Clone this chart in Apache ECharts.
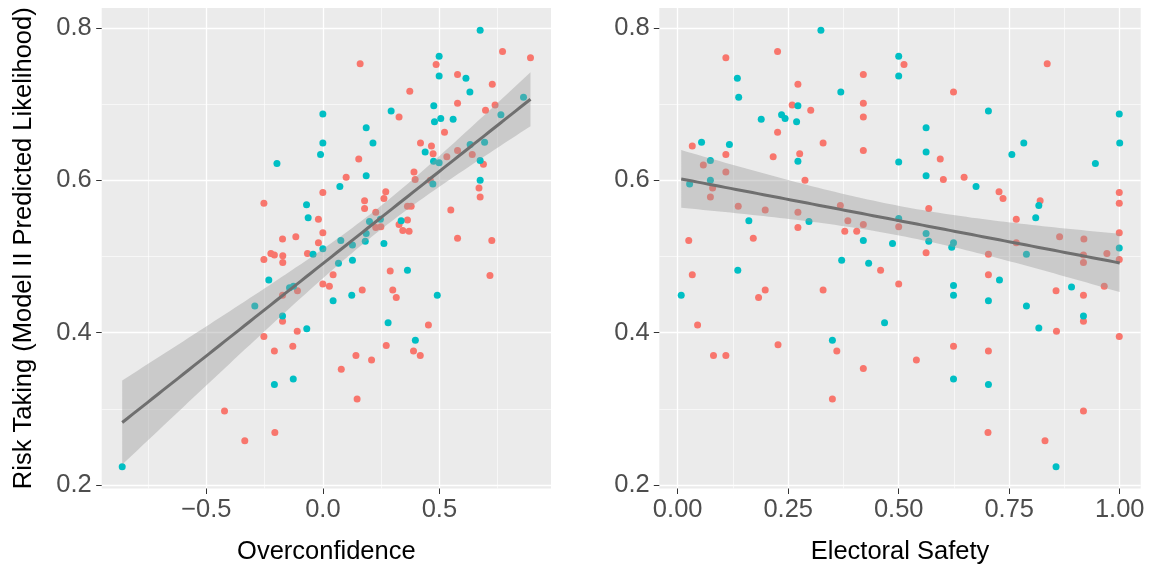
<!DOCTYPE html>
<html><head><meta charset="utf-8">
<script src="https://cdn.jsdelivr.net/npm/echarts@6/dist/echarts.min.js"></script>
<style>html,body{margin:0;padding:0;background:#fff}#c{width:1150px;height:565px}</style>
</head><body><div id="c"></div>
<script>
// ---- Data ----
// Left panel: Overconfidence vs Risk Taking
const leftRedX = [0.0,-0.253,-0.019,0.0,-0.173,-0.116,-0.019,0.771,0.891,0.160,0.486,0.578,0.727,0.373,0.578,0.739,0.698,0.327,0.522,0.419,0.466,0.473,0.532,0.578,0.641,0.154,0.689,0.391,0.100,0.396,0.461,0.670,0.675,0.270,0.262,0.179,0.179,0.227,0.549,0.363,0.379,0.363,0.327,0.227,0.249,0.343,0.370,0.578,0.725,-0.253,-0.223,-0.208,-0.172,-0.172,-0.066,0.0,0.028,-0.109,-0.173,-0.173,-0.110,-0.253,-0.129,-0.208,-0.422,-0.206,-0.335,0.044,0.169,0.289,0.300,0.315,0.717,0.453,0.272,0.389,0.418,0.142,0.209,0.079,0.147];
const leftRedY = [0.584,0.570,0.549,0.531,0.523,0.526,0.518,0.769,0.761,0.753,0.752,0.739,0.726,0.717,0.701,0.699,0.692,0.683,0.663,0.649,0.645,0.635,0.631,0.639,0.634,0.628,0.621,0.611,0.604,0.601,0.600,0.590,0.578,0.585,0.576,0.573,0.563,0.558,0.561,0.566,0.566,0.548,0.542,0.538,0.539,0.534,0.533,0.524,0.521,0.496,0.504,0.502,0.501,0.492,0.504,0.464,0.461,0.455,0.449,0.415,0.402,0.395,0.382,0.376,0.297,0.269,0.258,0.476,0.456,0.481,0.456,0.446,0.475,0.410,0.383,0.376,0.370,0.370,0.364,0.352,0.313];
const leftTealX = [0.0,0.0,-0.010,-0.197,-0.070,-0.063,0.0,0.675,0.499,0.499,0.614,0.631,0.293,0.476,0.506,0.479,0.559,0.764,0.861,0.186,0.215,0.632,0.694,0.439,0.475,0.499,0.675,0.186,0.472,0.675,0.073,0.200,0.247,0.336,0.186,0.182,0.077,0.262,0.127,-0.042,-0.232,-0.292,-0.143,-0.126,-0.173,-0.069,-0.208,-0.127,-0.861,0.067,0.127,0.044,0.124,0.363,0.491,0.280,0.397];
const leftTealY = [0.687,0.649,0.634,0.622,0.568,0.551,0.510,0.797,0.763,0.737,0.734,0.716,0.691,0.698,0.681,0.677,0.680,0.686,0.709,0.669,0.649,0.647,0.650,0.637,0.625,0.623,0.626,0.606,0.595,0.600,0.592,0.546,0.549,0.547,0.530,0.520,0.521,0.517,0.515,0.503,0.469,0.435,0.459,0.461,0.422,0.405,0.332,0.339,0.224,0.491,0.495,0.442,0.449,0.482,0.449,0.413,0.390];
// Right panel: Electoral Safety vs Risk Taking
const rightRedX = [0.226,0.109,0.512,0.272,0.420,0.259,0.301,0.420,0.420,0.226,0.329,0.420,0.033,0.109,0.216,0.276,0.058,0.109,0.288,0.079,0.074,0.137,0.198,0.368,0.272,0.385,0.420,0.500,0.272,0.378,0.405,0.025,0.171,0.836,0.624,0.594,0.601,0.648,0.727,0.736,0.999,0.999,0.820,0.568,0.766,0.999,0.864,0.919,0.766,0.033,0.045,0.183,0.198,0.081,0.109,0.227,0.329,0.459,0.500,0.360,0.420,0.350,0.562,0.703,0.918,0.918,0.971,0.999,0.703,0.856,0.918,0.965,0.918,0.857,0.999,0.624,0.540,0.703,0.918,0.702,0.831];
const rightRedY = [0.769,0.761,0.752,0.726,0.739,0.699,0.692,0.701,0.683,0.663,0.649,0.639,0.645,0.634,0.631,0.635,0.620,0.611,0.600,0.590,0.578,0.566,0.561,0.567,0.558,0.547,0.542,0.539,0.538,0.533,0.533,0.521,0.524,0.753,0.716,0.628,0.601,0.604,0.585,0.576,0.584,0.570,0.573,0.563,0.549,0.531,0.526,0.523,0.518,0.476,0.410,0.446,0.456,0.370,0.370,0.384,0.456,0.482,0.464,0.376,0.353,0.313,0.505,0.503,0.502,0.492,0.504,0.496,0.476,0.455,0.449,0.461,0.415,0.402,0.395,0.382,0.364,0.376,0.297,0.269,0.258];
const rightTealX = [0.324,0.500,0.500,0.135,0.369,0.138,0.272,0.189,0.235,0.243,0.269,0.054,0.117,0.272,0.500,0.074,0.074,0.027,0.500,0.161,0.297,0.420,0.486,0.703,0.999,0.562,1.0,0.783,0.756,0.562,0.945,0.562,0.675,0.817,0.810,0.562,0.568,0.624,0.620,0.999,0.008,0.136,0.371,0.432,0.468,0.350,0.789,0.728,0.624,0.624,0.703,0.891,0.789,0.918,0.817,0.624,0.703,0.856];
const rightTealY = [0.797,0.763,0.737,0.734,0.716,0.709,0.698,0.680,0.686,0.681,0.677,0.650,0.647,0.625,0.624,0.626,0.600,0.595,0.550,0.547,0.546,0.521,0.517,0.691,0.687,0.669,0.649,0.649,0.634,0.637,0.622,0.606,0.592,0.567,0.551,0.530,0.520,0.518,0.512,0.511,0.449,0.482,0.495,0.491,0.413,0.390,0.503,0.469,0.462,0.449,0.442,0.460,0.435,0.422,0.406,0.339,0.332,0.224];

const leftMajorX = [-0.5, 0, 0.5];
const leftMinorX = [-0.75, -0.25, 0.25, 0.75];
const rightMajorX = [0, 0.25, 0.5, 0.75, 1.0];
const rightMinorX = [0.125, 0.375, 0.625, 0.875];
const majorY = [0.2, 0.4, 0.6, 0.8];
const minorY = [0.3, 0.5, 0.7];

const RED = '#F8766D', TEAL = '#00BFC4';
const FONT = '"Liberation Sans", Arial, sans-serif';

function zip(a, b) { return a.map((v, i) => [v, b[i]]); }

// Linear model with 95% confidence band (like geom_smooth(method = "lm"))
function lmBand(xs, ys, steps) {
  const n = xs.length;
  const mx = xs.reduce((s, v) => s + v, 0) / n;
  const my = ys.reduce((s, v) => s + v, 0) / n;
  let sxx = 0, sxy = 0;
  for (let i = 0; i < n; i++) { sxx += (xs[i] - mx) ** 2; sxy += (xs[i] - mx) * (ys[i] - my); }
  const b = sxy / sxx, a = my - b * mx;
  let sse = 0;
  for (let i = 0; i < n; i++) { const r = ys[i] - (a + b * xs[i]); sse += r * r; }
  const s = Math.sqrt(sse / (n - 2));
  const t = 1.978;
  const xmin = Math.min(...xs), xmax = Math.max(...xs);
  const fit = [], hi = [], lo = [];
  for (let k = 0; k <= steps; k++) {
    const x = xmin + (xmax - xmin) * k / steps;
    const yh = a + b * x;
    const se = s * Math.sqrt(1 / n + (x - mx) ** 2 / sxx);
    fit.push([x, yh]); hi.push([x, yh + t * se]); lo.push([x, yh - t * se]);
  }
  return { fit, hi, lo };
}

const leftFit = lmBand(leftRedX.concat(leftTealX), leftRedY.concat(leftTealY), 80);
const rightFit = lmBand(rightRedX.concat(rightTealX), rightRedY.concat(rightTealY), 80);

function bandSeries(fitObj, xi, yi) {
  return {
    type: 'custom', xAxisIndex: xi, yAxisIndex: yi, z: 5, silent: true,
    data: [[fitObj.fit[40][0], fitObj.fit[40][1]]],
    renderItem: function (params, api) {
      const pts = fitObj.hi.map(p => api.coord(p)).concat(fitObj.lo.slice().reverse().map(p => api.coord(p)));
      return { type: 'polygon', shape: { points: pts }, style: { fill: 'rgba(153,153,153,0.4)' } };
    }
  };
}
function lineSeries(fitObj, xi, yi) {
  return {
    type: 'line', xAxisIndex: xi, yAxisIndex: yi, z: 6, silent: true, showSymbol: false,
    data: fitObj.fit, lineStyle: { color: '#6f6f6f', width: 3 }
  };
}
function scatter(xs, ys, color, xi, yi) {
  return { type: 'scatter', xAxisIndex: xi, yAxisIndex: yi, z: 3, symbolSize: 7, silent: true,
           itemStyle: { color: color, opacity: 1 }, data: zip(xs, ys) };
}

const labelStyle = { color: '#4D4D4D', fontSize: 25.5, fontFamily: FONT };
function majorAxis(gridIndex, min, max, vals, fmt, margin, extra) {
  return Object.assign({
    type: 'value', gridIndex, min, max,
    axisLine: { show: false, onZero: false },
    axisTick: { show: true, customValues: vals, length: 5.5, lineStyle: { color: '#333', width: 1 } },
    axisLabel: Object.assign({ customValues: vals, formatter: fmt, margin: margin }, labelStyle),
    splitLine: { show: true, lineStyle: { color: '#FFFFFF', width: 1.3 } },
    minorTick: { show: false }, minorSplitLine: { show: false }
  }, extra || {});
}
function minorAxis(gridIndex, min, max, vals, pos) {
  return {
    type: 'value', gridIndex, min, max, position: pos,
    axisLine: { show: false, onZero: false },
    axisTick: { show: false, customValues: vals },
    axisLabel: { show: false, customValues: vals },
    splitLine: { show: true, lineStyle: { color: '#FFFFFF', width: 0.6 } }
  };
}
const fmtLeftX = v => (v < 0 ? '\u2212' + Math.abs(v).toFixed(1) : v.toFixed(1));
const fmt1 = v => v.toFixed(1);
const fmt2 = v => v.toFixed(2);
const nameStyle = { color: '#000', fontSize: 25.5, fontFamily: FONT };

const YMIN = 0.1954, YMAX = 0.8262;
const LXMIN = -0.949, LXMAX = 0.979;
const RXMIN = -0.0416, RXMAX = 1.0475;

const option = {
  animation: false,
  backgroundColor: '#FFFFFF',
  grid: [
    { left: 101.7, right: 599, top: 8, bottom: 76.5, show: true, backgroundColor: '#EBEBEB', borderWidth: 0, containLabel: false, outerBoundsMode: 'none' },
    { left: 659.3, right: 9.3, top: 8, bottom: 76.5, show: true, backgroundColor: '#EBEBEB', borderWidth: 0, containLabel: false, outerBoundsMode: 'none' }
  ],
  xAxis: [
    majorAxis(0, LXMIN, LXMAX, leftMajorX, fmtLeftX, 8, { position: 'bottom', name: 'Overconfidence', nameLocation: 'middle', nameGap: 50, nameTextStyle: nameStyle }),
    minorAxis(0, LXMIN, LXMAX, leftMinorX, 'bottom'),
    majorAxis(1, RXMIN, RXMAX, rightMajorX, fmt2, 8, { position: 'bottom', name: 'Electoral Safety', nameLocation: 'middle', nameGap: 50, nameTextStyle: nameStyle }),
    minorAxis(1, RXMIN, RXMAX, rightMinorX, 'bottom')
  ],
  yAxis: [
    majorAxis(0, YMIN, YMAX, majorY, fmt1, 10, { position: 'left', name: 'Risk Taking (Model II Predicted Likelihood)', nameLocation: 'middle', nameGap: 64.5, nameTextStyle: nameStyle }),
    minorAxis(0, YMIN, YMAX, minorY, 'left'),
    majorAxis(1, YMIN, YMAX, majorY, fmt1, 9.5, { position: 'left' }),
    minorAxis(1, YMIN, YMAX, minorY, 'left')
  ],
  series: [
    scatter(leftRedX, leftRedY, RED, 0, 0),
    scatter(leftTealX, leftTealY, TEAL, 0, 0),
    bandSeries(leftFit, 0, 0),
    lineSeries(leftFit, 0, 0),
    scatter(rightRedX, rightRedY, RED, 2, 2),
    scatter(rightTealX, rightTealY, TEAL, 2, 2),
    bandSeries(rightFit, 2, 2),
    lineSeries(rightFit, 2, 2)
  ]
};

const chart = echarts.init(document.getElementById('c'), null, { renderer: 'canvas' });
chart.setOption(option);
</script>
</body></html>
